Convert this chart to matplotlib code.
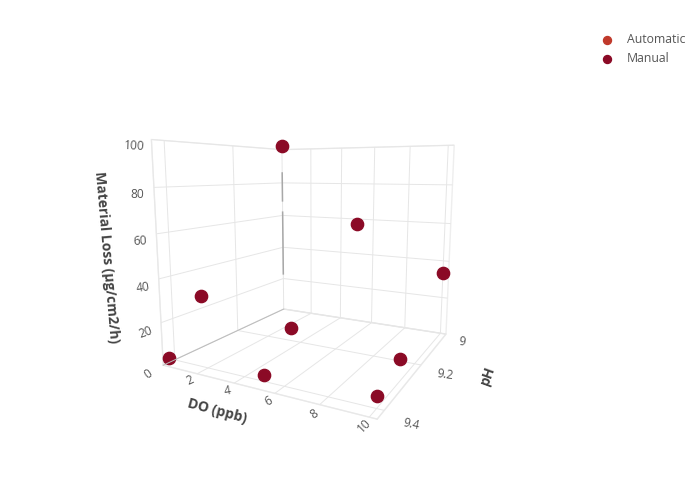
import matplotlib
matplotlib.use("Agg")
import matplotlib.pyplot as plt

plt.rcParams['font.family'] = ['Open Sans', 'DejaVu Sans']

do_manual = [0, 0, 5, 10, 0, 5, 10, 2.4, 9.3]
ph_manual = [9.0, 9.32, 9.0, 9.0, 9.415, 9.4, 9.4, 9.13, 9.2]
loss_manual = [102, 26, 57, 33.5, 2, 3, 5, 0, 1]
do_auto = []
ph_auto = []
loss_auto = []
do_ticks = [2, 4, 6, 8, 10]
ph_ticks = [9, 9.2, 9.4]
ph_labels = ['9', '9.2', '9.4']
loss_ticks = [0, 20, 40, 60, 80, 100]
do_tick_angles = [25, 10, 30, 35, 45]
ph_tick_angles = [-5, -8, -12]
loss_tick_angles = [35, 20, 8, 3, 0, -3]
corner_line_loss = [[23, 62], [69, 86]]
floor_line_ph = [9.0, 9.43]
series_names = ['Automatic', 'Manual']
series_colors = ['#c0392b', '#8b0a26']

fig = plt.figure(figsize=(7, 5), dpi=100)
ax = fig.add_axes([0.191, 0.135, 0.51, 0.715], projection='3d', computed_zorder=False)
ax.set_proj_type('persp', focal_length=0.25)
ax.view_init(elev=9, azim=-62)
ax.set_box_aspect((1, 1, 0.97), zoom=1.0)
ax.set_xlim(0, 10.3)
ax.set_ylim(9.43, 9.0)
ax.set_zlim(0, 100)
ax.set_xticks(do_ticks)
ax.set_yticks(ph_ticks, ph_labels)
ax.set_zticks(loss_ticks)
for a in (ax.xaxis, ax.yaxis, ax.zaxis):
    a.set_pane_color((1, 1, 1, 1))
    a.pane.set_edgecolor('#eeeeee')
    a.line.set_color('#e8e8e8')
    a.line.set_linewidth(0.8)
    a._axinfo['grid']['color'] = '#e6e6e6'
    a._axinfo['grid']['linewidth'] = 0.7
    a._axinfo['tick']['inward_factor'] = 0
    a._axinfo['tick']['outward_factor'] = 0
ax.zaxis.set_ticks_position('upper')
ax.tick_params(axis='both', labelsize=8.6, labelcolor='#555555')
ax.tick_params(axis='x', pad=-2)
ax.tick_params(axis='y', pad=1)
ax.tick_params(axis='z', pad=-2)
for axis, angles in ((ax.xaxis, do_tick_angles), (ax.yaxis, ph_tick_angles), (ax.zaxis, loss_tick_angles)):
    for tick, angle in zip(axis.get_major_ticks(), angles):
        tick.label1.set_rotation(angle)
for tick in ax.yaxis.get_major_ticks():
    tick.label1.set_va('bottom')
    tick.label1.set_ha('left')
for tick in ax.xaxis.get_major_ticks():
    tick.label1.set_va('bottom')

for seg in corner_line_loss:
    ax.plot([0, 0], [9.0, 9.0], seg, color='#a8a8a8', lw=1.1)
ax.plot([0, 0], floor_line_ph, [0, 0], color='#bbbbbb', lw=0.7)

ax.scatter(do_auto, ph_auto, loss_auto, s=78, color=series_colors[0], depthshade=False, label=series_names[0], clip_on=False)
ax.scatter(do_manual, ph_manual, loss_manual, s=78, color=series_colors[1], depthshade=False, label=series_names[1], clip_on=False)

fig.text(217/700, 1-411/500, 'DO (ppb)', fontsize=10, fontweight='bold', color='#444444', rotation=-15, ha='center', va='center')
fig.text(488/700, 1-375/500, 'pH', fontsize=10, fontweight='bold', color='#444444', rotation=70, ha='center', va='center')
fig.text(106/700, 1-257/500, 'Material Loss (µg/cm2/h)', fontsize=10, fontweight='bold', color='#444444', rotation=-85, ha='center', va='center')

fig.legend(loc='upper left', bbox_to_anchor=(0.834, 0.956), frameon=False, fontsize=8.8, labelcolor='#555555', handletextpad=0.65, labelspacing=0.5, markerscale=0.65)
fig.savefig('out.png', dpi=100)
